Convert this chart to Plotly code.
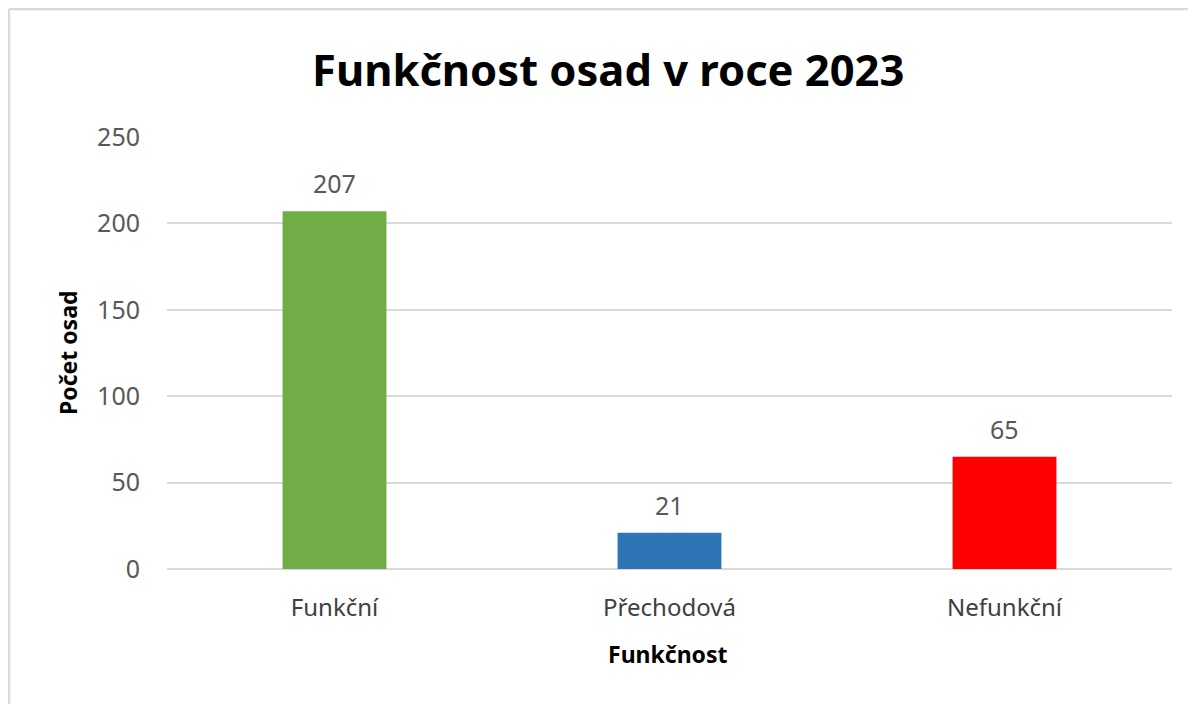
import plotly.graph_objects as go

categories = ["Funkční", "Přechodová", "Nefunkční"]
values = [207, 21, 65]
colors = ["#70ad47", "#2e75b6", "#ff0000"]
title_text = "Funkčnost osad v roce 2023"
x_title = "Funkčnost"
y_title = "Počet osad"

OFF = 8  # page body margin
W, H = 1196 - OFF, 704 - OFF
L, R, T, B = 167 - OFF, 24, 137 - OFF, 135
pw, ph = W - L - R, H - T - B

def px_x(p):
    return (p - OFF - L) / pw

def px_y(p):
    return (H - B - (p - OFF)) / ph

FONT = "Noto Sans"

fig = go.Figure()
fig.add_trace(go.Bar(
    x=categories, y=values, marker=dict(color=colors, line=dict(width=0)),
    width=0.31, hoverinfo="x+y", showlegend=False,
))

annotations = []
for c, v in zip(categories, values):
    annotations.append(dict(x=c, y=v, xref="x", yref="y", text=str(v), showarrow=False,
                            yanchor="bottom", yshift=9,
                            font=dict(family=FONT, size=25, color="#595959")))
annotations.append(dict(x=px_x(608), y=px_y(69), xref="paper", yref="paper", text="<b>%s</b>" % title_text,
                        showarrow=False, xanchor="center", yanchor="middle",
                        font=dict(family=FONT, size=43.5, color="#000000")))
annotations.append(dict(x=px_x(668), y=px_y(654), xref="paper", yref="paper", text="<b>%s</b>" % x_title,
                        showarrow=False, xanchor="center", yanchor="middle",
                        font=dict(family=FONT, size=23, color="#000000")))
annotations.append(dict(x=px_x(68), y=px_y(353), xref="paper", yref="paper", text="<b>%s</b>" % y_title,
                        showarrow=False, xanchor="center", yanchor="middle", textangle=-90,
                        font=dict(family=FONT, size=23, color="#000000")))

border = "#d9d9d9"
shapes = [
    dict(type="line", xref="paper", yref="paper", x0=px_x(9), x1=px_x(1210), y0=px_y(9), y1=px_y(9),
         line=dict(color=border, width=2.5)),
    dict(type="line", xref="paper", yref="paper", x0=px_x(9), x1=px_x(9), y0=px_y(9), y1=px_y(720),
         line=dict(color=border, width=2.5)),
]

fig.update_layout(
    width=W, height=H,
    margin=dict(l=L, r=R, t=T, b=B, autoexpand=False),
    paper_bgcolor="white", plot_bgcolor="white",
    annotations=annotations, shapes=shapes,
    bargap=0.69,
    font=dict(family=FONT),
)
fig.update_xaxes(
    showgrid=False, showline=False, zeroline=False,
    tickfont=dict(family=FONT, size=24, color="#404040"),
    ticks="", ticklabelstandoff=22,
)
fig.update_yaxes(
    range=[0, 250], dtick=50, tick0=0,
    showgrid=True, gridcolor="#d9d9d9", gridwidth=1.5,
    zeroline=True, zerolinecolor="#d9d9d9", zerolinewidth=1.5,
    showline=False, ticks="", ticklabelstandoff=26,
    tickfont=dict(family=FONT, size=25, color="#595959"),
)

fig.write_html("out.html")
